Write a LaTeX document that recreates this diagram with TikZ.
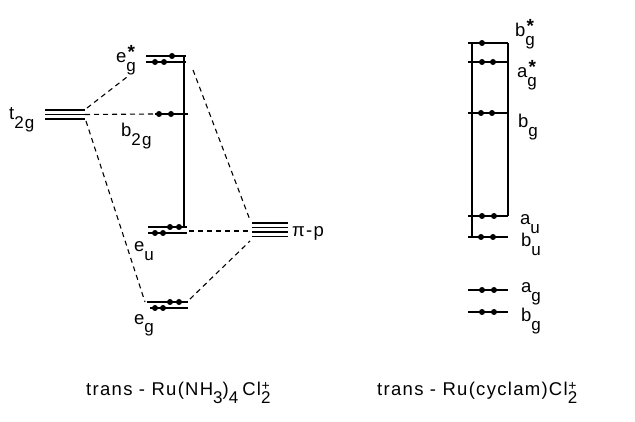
\documentclass[tikz,border=0pt]{standalone}
\usepackage{fontspec}
\setmainfont[LetterSpace=7]{Liberation Sans}
\newfontfamily\starfont{Liberation Sans}[Scale=1.0]
\usepackage{graphicx}
\newcommand\dn[1]{\raisebox{-8.5pt}{\fontsize{17}{20}\selectfont #1}}
\newcommand\dnst[2]{\raisebox{-8.5pt}{\fontsize{17}{20}\selectfont\ooalign{#1\cr\hidewidth\raisebox{13pt}{\fontsize{19}{20}\bfseries\starfont #2}\hidewidth\cr}}}
\tikzset{
  lvl/.style={line width=1.5pt},
  conn/.style={dash pattern=on 5pt off 4pt, line width=1.1pt},
  vln/.style={line width=1.1pt},
  el/.style={circle, fill=black, inner sep=0pt, minimum size=6pt},
  lab/.style={anchor=base west, inner sep=0pt, font=\fontsize{18.5}{21}\selectfont},
}
\begin{document}
\begin{tikzpicture}[x=1pt,y=-1pt]
\useasboundingbox (0,0) rectangle (635,422);
% ---------- left diagram ----------
% t2g
\coordinate (t2gL1) at (45,110); \coordinate (t2gR1) at (85,110);
\coordinate (t2gL2) at (45,114.5); \coordinate (t2gR2) at (85,114.5);
\coordinate (t2gL3) at (45,119); \coordinate (t2gR3) at (85,119);
\draw[lvl] (t2gL1) -- (t2gR1) (t2gL2) -- (t2gR2) (t2gL3) -- (t2gR3);
% eg*
\coordinate (egsA1) at (146,56); \coordinate (egsB1) at (186,56);
\coordinate (egsA2) at (146,62); \coordinate (egsB2) at (186,62);
\draw[lvl] (egsA1) -- (egsB1) (egsA2) -- (egsB2);
\node[el] (e1) at (172,56) {}; \node[el] (e2) at (155,62) {}; \node[el] (e3) at (164,62) {};
% b2g
\coordinate (b2gA) at (155,114); \coordinate (b2gB) at (188,114);
\draw[lvl] (b2gA) -- (b2gB);
\node[el] (e4) at (159,114) {}; \node[el] (e5) at (171,114) {};
% eu
\coordinate (euA1) at (148,227); \coordinate (euB1) at (187,227);
\coordinate (euA2) at (148,233); \coordinate (euB2) at (187,233);
\draw[lvl] (euA1) -- (euB1) (euA2) -- (euB2);
\node[el] (e6) at (170,227) {}; \node[el] (e7) at (179,227) {};
\node[el] (e8) at (155,233) {}; \node[el] (e9) at (163,233) {};
% eg
\coordinate (egA1) at (147,302); \coordinate (egB1) at (188,302);
\coordinate (egA2) at (150,308); \coordinate (egB2) at (188,308);
\draw[lvl] (egA1) -- (egB1) (egA2) -- (egB2);
\node[el] (e10) at (170,302) {}; \node[el] (e11) at (179,302) {};
\node[el] (e12) at (155,308) {}; \node[el] (e13) at (163,308) {};
% vertical
\coordinate (vT) at (184,56); \coordinate (vB) at (184,227);
\draw[vln] (vT) -- (vB);
% pi-p
\foreach \yy/\nn in {223/1,227.5/2,232/3,236.5/4}{
  \coordinate (piL\nn) at (252,\yy); \coordinate (piR\nn) at (288,\yy);
  \draw[lvl] (piL\nn) -- (piR\nn);
}
% dashed correlation lines
\coordinate (d1a) at (87,108); \coordinate (d1b) at (127,77);
\coordinate (d3a) at (86,121); \coordinate (d3b) at (145,302);
\coordinate (d4a) at (193,70); \coordinate (d4b) at (250,220);
\coordinate (d5a) at (189,231); \coordinate (d5b) at (251,231);
\coordinate (d6a) at (190,299); \coordinate (d6b) at (250,241);
\draw[conn] (d1a) -- (d1b);
\draw[conn] (t2gR2) -- (b2gA);
\draw[conn] (d3a) -- (d3b);
\draw[conn] (d4a) -- (d4b);
\draw[conn] (d5a) -- (d5b);
\draw[conn] (d6a) -- (d6b);
% labels
\node[lab] (Legs) at (116,63) {e\dnst{g}{*}};
\node[lab] (Lt2g) at (9,120) {t\dn{2g}};
\node[lab] (Lb2g) at (121,137) {b\dn{2g}};
\node[lab] (Leu) at (134,252) {e\dn{u}};
\node[lab] (Leg) at (134,324) {e\dn{g}};
\node[lab] (Lpi) at (292,237) {π-p};
% ---------- right diagram ----------
\foreach \yy/\nn in {43/1,62/2,113/3,216/4,237/5,290/6,312/7}{
  \coordinate (rA\nn) at (468,\yy); \coordinate (rB\nn) at (508,\yy);
  \draw[lvl] (rA\nn) -- (rB\nn);
}
\node[el] (r1) at (482,43) {};
\node[el] (r2) at (482,62) {}; \node[el] (r3) at (493,62) {};
\node[el] (r4) at (481,113) {}; \node[el] (r5) at (492,113) {};
\node[el] (r6) at (482,216) {}; \node[el] (r7) at (494,216) {};
\node[el] (r8) at (481,237) {}; \node[el] (r9) at (493,237) {};
\node[el] (r10) at (482,290) {}; \node[el] (r11) at (494,290) {};
\node[el] (r12) at (482,312) {}; \node[el] (r13) at (494,312) {};
\coordinate (vlT) at (472,43); \coordinate (vlB) at (472,237);
\coordinate (vrT) at (508,43); \coordinate (vrB) at (508,216);
\draw[vln] (vlT) -- (vlB);
\draw[vln] (vrT) -- (vrB);
\node[lab] (Rbgs) at (515,37) {b\dnst{g}{*}};
\node[lab] (Rags) at (517,78) {a\dnst{g}{*}};
\node[lab] (Rbg) at (518,128) {b\dn{g}};
\node[lab] (Rau) at (520,225) {a\dn{u}};
\node[lab] (Rbu) at (521,247) {b\dn{u}};
\node[lab] (Rag) at (521,293) {a\dn{g}};
\node[lab] (Rbg2) at (521,322) {b\dn{g}};
% ---------- captions ----------
\node[lab] (capL) at (86,395) {trans - Ru(NH\dn{3})\dn{4}\hspace{4pt}Cl\dnst{2}{\fontsize{14}{16}\mdseries +}};
\node[lab] (capR) at (377,395) {trans - Ru(cyclam)Cl\dnst{2}{\fontsize{14}{16}\mdseries +}};
\end{tikzpicture}
\end{document}
